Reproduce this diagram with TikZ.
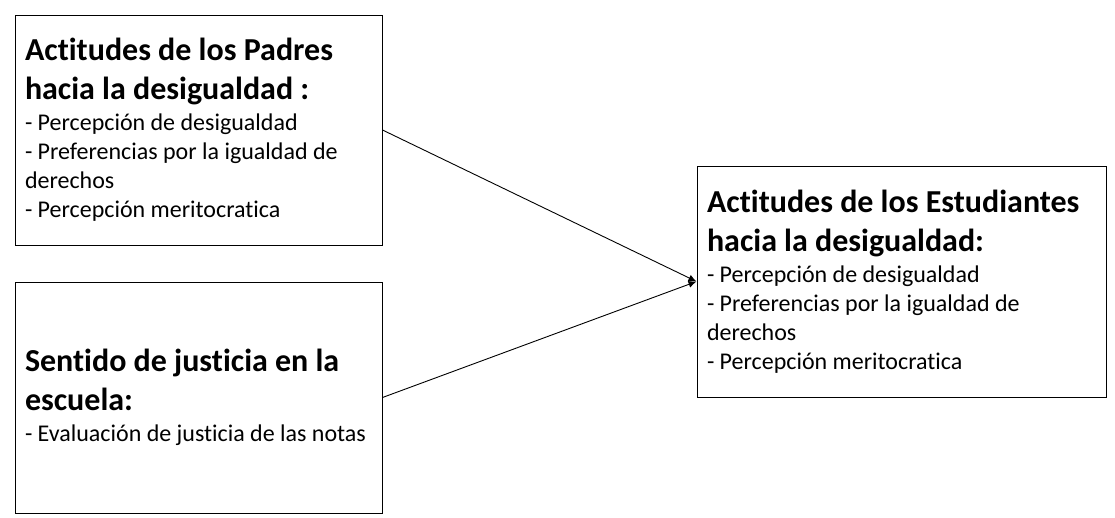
\documentclass[tikz,border=0pt]{standalone}
\usepackage{fontspec}
\setmainfont{Carlito}[Ligatures=NoCommon]
\usetikzlibrary{arrows.meta}
\tikzset{
  box/.style={draw=black, line width=1pt, inner xsep=10pt, inner ysep=0pt, align=left,
    font=\fontsize{24}{29}\selectfont},
  link/.style={draw=black, line width=0.9pt, -{Latex[length=8pt,width=7pt]}},
}
\newcommand{\rr}{\rightskip=0pt plus 1fil\hyphenpenalty=10000\exhyphenpenalty=10000\relax}
\newcommand{\hdf}{\fontsize{32}{39}\selectfont\bfseries\spaceskip=7.2pt\relax}
\newcommand{\txf}{\fontsize{24}{29}\selectfont\mdseries\spaceskip=5.4pt\relax}
\newcommand{\tail}{\par\vspace{-5pt}}
\begin{document}
\begin{tikzpicture}[x=1pt,y=-1pt]
\useasboundingbox (0,0) rectangle (1115,517);
\node[box, minimum width=367pt, minimum height=230pt, text width=347pt] (A) at (198.5,130)
{\rr\hdf Actitudes de los Padres\\ hacia la desigualdad :\par\vspace{2pt}
\txf - Percepción de desigualdad\\
- Preferencias por la igualdad de\\ derechos\\
- Percepción meritocratica\tail};
\node[box, minimum width=367pt, minimum height=231pt, text width=347pt] (B) at (198.5,397.5)
{\rr\hdf Sentido de justicia en la\\ escuela:\par\vspace{2pt}
\txf - Evaluación de justicia de las notas\tail};
\node[box, minimum width=409pt, minimum height=231pt, text width=389pt] (C) at (901.5,281.5)
{\rr\hdf Actitudes de los Estudiantes\\ hacia la desigualdad:\par\vspace{2pt}
\txf - Percepción de desigualdad\\
- Preferencias por la igualdad de\\ derechos\\
- Percepción meritocratica\tail};
\draw[link] (A.east) -- (C.west);
\draw[link] (B.east) -- (C.west);
\end{tikzpicture}
\end{document}
